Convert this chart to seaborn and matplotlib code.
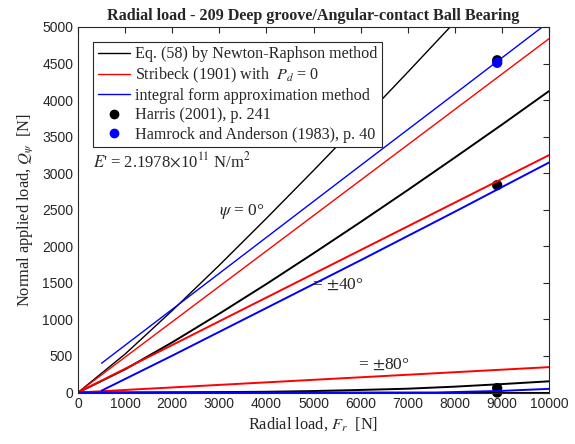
import numpy as np
import pandas as pd
import seaborn as sns
import matplotlib.pyplot as plt
from matplotlib.lines import Line2D

# ---- data ----
fr_nr = [0, 1000, 2000, 3000, 4000, 5000, 6000, 7000, 8000, 9000, 10000]
q_nr_0 = [0, 526, 1120, 1741, 2382, 3037, 3704, 4381, 5068, 5760, 6460]
q_nr_40 = [0, 317, 686, 1078, 1484, 1904, 2332, 2769, 3214, 3664, 4123]
q_nr_80 = [0, 0, 3, 6, 10, 20, 35, 52, 80, 115, 153]
q_nr_zero = [0] * len(fr_nr)

fr_st = [0, 10000]
q_st_0 = [0, 4840]
q_st_40 = [0, 3247]
q_st_80 = [0, 347]
q_st_zero = [0, 0]

fr_int = [500, 2000, 4000, 6000, 8000, 10000]
q_int_0 = [400, 1138, 2122, 3106, 4086, 5070]
q_int_40 = [25, 504, 1156, 1809, 2473, 3146]
fr_int_80 = [0, 500, 7600, 9000, 10000]
q_int_80 = [0, 0, 0, 22, 50]

fr_harris = [8900, 8900, 8900, 8900]
q_harris = [4545, 2836, 60, 0]
fr_hamrock = [8900]
q_hamrock = [4510]

sns.set_theme(style='white')
plt.rcParams['font.family'] = ['Liberation Serif', 'DejaVu Serif']
plt.rcParams['mathtext.fontset'] = 'stix'

fig = plt.figure(figsize=(5.75, 4.44), dpi=100)
ax = fig.add_axes([78 / 575, 51.5 / 444, 471 / 575, 365.5 / 444])

# zero-load lines first, then the three angles
sns.lineplot(x=fr_st, y=q_st_zero, color='red', lw=1.4, ax=ax)
sns.lineplot(x=fr_nr, y=q_nr_zero, color='black', lw=1.4, ax=ax)

for q, lw in [(q_nr_0, 1.0), (q_nr_40, 1.4), (q_nr_80, 1.4)]:
    sns.lineplot(x=fr_nr, y=q, color='black', lw=lw, ax=ax)
for q, lw in [(q_st_0, 1.0), (q_st_40, 1.4), (q_st_80, 1.4)]:
    sns.lineplot(x=fr_st, y=q, color='red', lw=lw, ax=ax)
sns.lineplot(x=fr_int, y=q_int_0, color='blue', lw=1.0, ax=ax)
sns.lineplot(x=fr_int, y=q_int_40, color='blue', lw=1.4, ax=ax)
sns.lineplot(x=fr_int_80, y=q_int_80, color='blue', lw=1.4, ax=ax)

sns.scatterplot(x=fr_harris, y=q_harris, color='black', s=55, edgecolor='none', ax=ax)
ax.collections[-1].set_clip_on(False)
sns.scatterplot(x=fr_hamrock, y=q_hamrock, color='blue', s=55, edgecolor='none', ax=ax)
ax.collections[-1].set_clip_on(False)

ax.set_xlim(0, 10000)
ax.set_ylim(0, 5000)
ax.set_xticks(range(0, 10001, 1000))
ax.set_yticks(range(0, 5001, 500))
ax.tick_params(direction='in', top=True, right=True, length=4, width=0.8,
               labelsize=10, colors='#262626', labelcolor='#262626')
for lab in ax.get_xticklabels() + ax.get_yticklabels():
    lab.set_family(['Liberation Sans', 'DejaVu Sans'])
for sp in ax.spines.values():
    sp.set_color('#262626')
    sp.set_linewidth(0.8)

ax.set_xlabel('Radial load, $F_r$  [N]', fontsize=11.8, color='#262626', labelpad=3)
ax.set_ylabel('Normal applied load, $Q_\\psi$  [N]', fontsize=11.8, color='#262626', labelpad=4)
ax.set_title('Radial load - 209 Deep groove/Angular-contact Ball Bearing',
             fontsize=11.6, fontweight='bold', pad=5)

ax.text(3000, 2473, '$\\psi$ = 0°', fontsize=12.5, va='center')
ax.text(4968, 1473, '= $\\pm$40°', fontsize=12.5, va='center')
ax.text(5945, 377, '= $\\pm$80°', fontsize=12.5, va='center')
ax.text(318, 3170, "$E$' = 2.1978$\\times$10$^{11}$ N/m$^2$", fontsize=12, va='center')

handles = [
    Line2D([], [], color='black', lw=1.0),
    Line2D([], [], color='red', lw=1.0),
    Line2D([], [], color='blue', lw=1.0),
    Line2D([], [], color='black', marker='o', ls='none', ms=6),
    Line2D([], [], color='blue', marker='o', ls='none', ms=6),
]
labels = [
    'Eq. (58) by Newton-Raphson method',
    'Stribeck (1901) with  $P_d$ = 0',
    'integral form approximation method',
    'Harris (2001), p. 241',
    'Hamrock and Anderson (1983), p. 40',
]
leg = ax.legend(handles, labels, loc='upper left', bbox_to_anchor=(0.032, 0.96),
                borderaxespad=0, fontsize=11.6, frameon=True, fancybox=False,
                framealpha=1, edgecolor='#262626', handlelength=2.0,
                handletextpad=0.3, borderpad=0.3, labelspacing=0.2)
leg.get_frame().set_linewidth(0.8)

fig.savefig('out.png', dpi=100)
